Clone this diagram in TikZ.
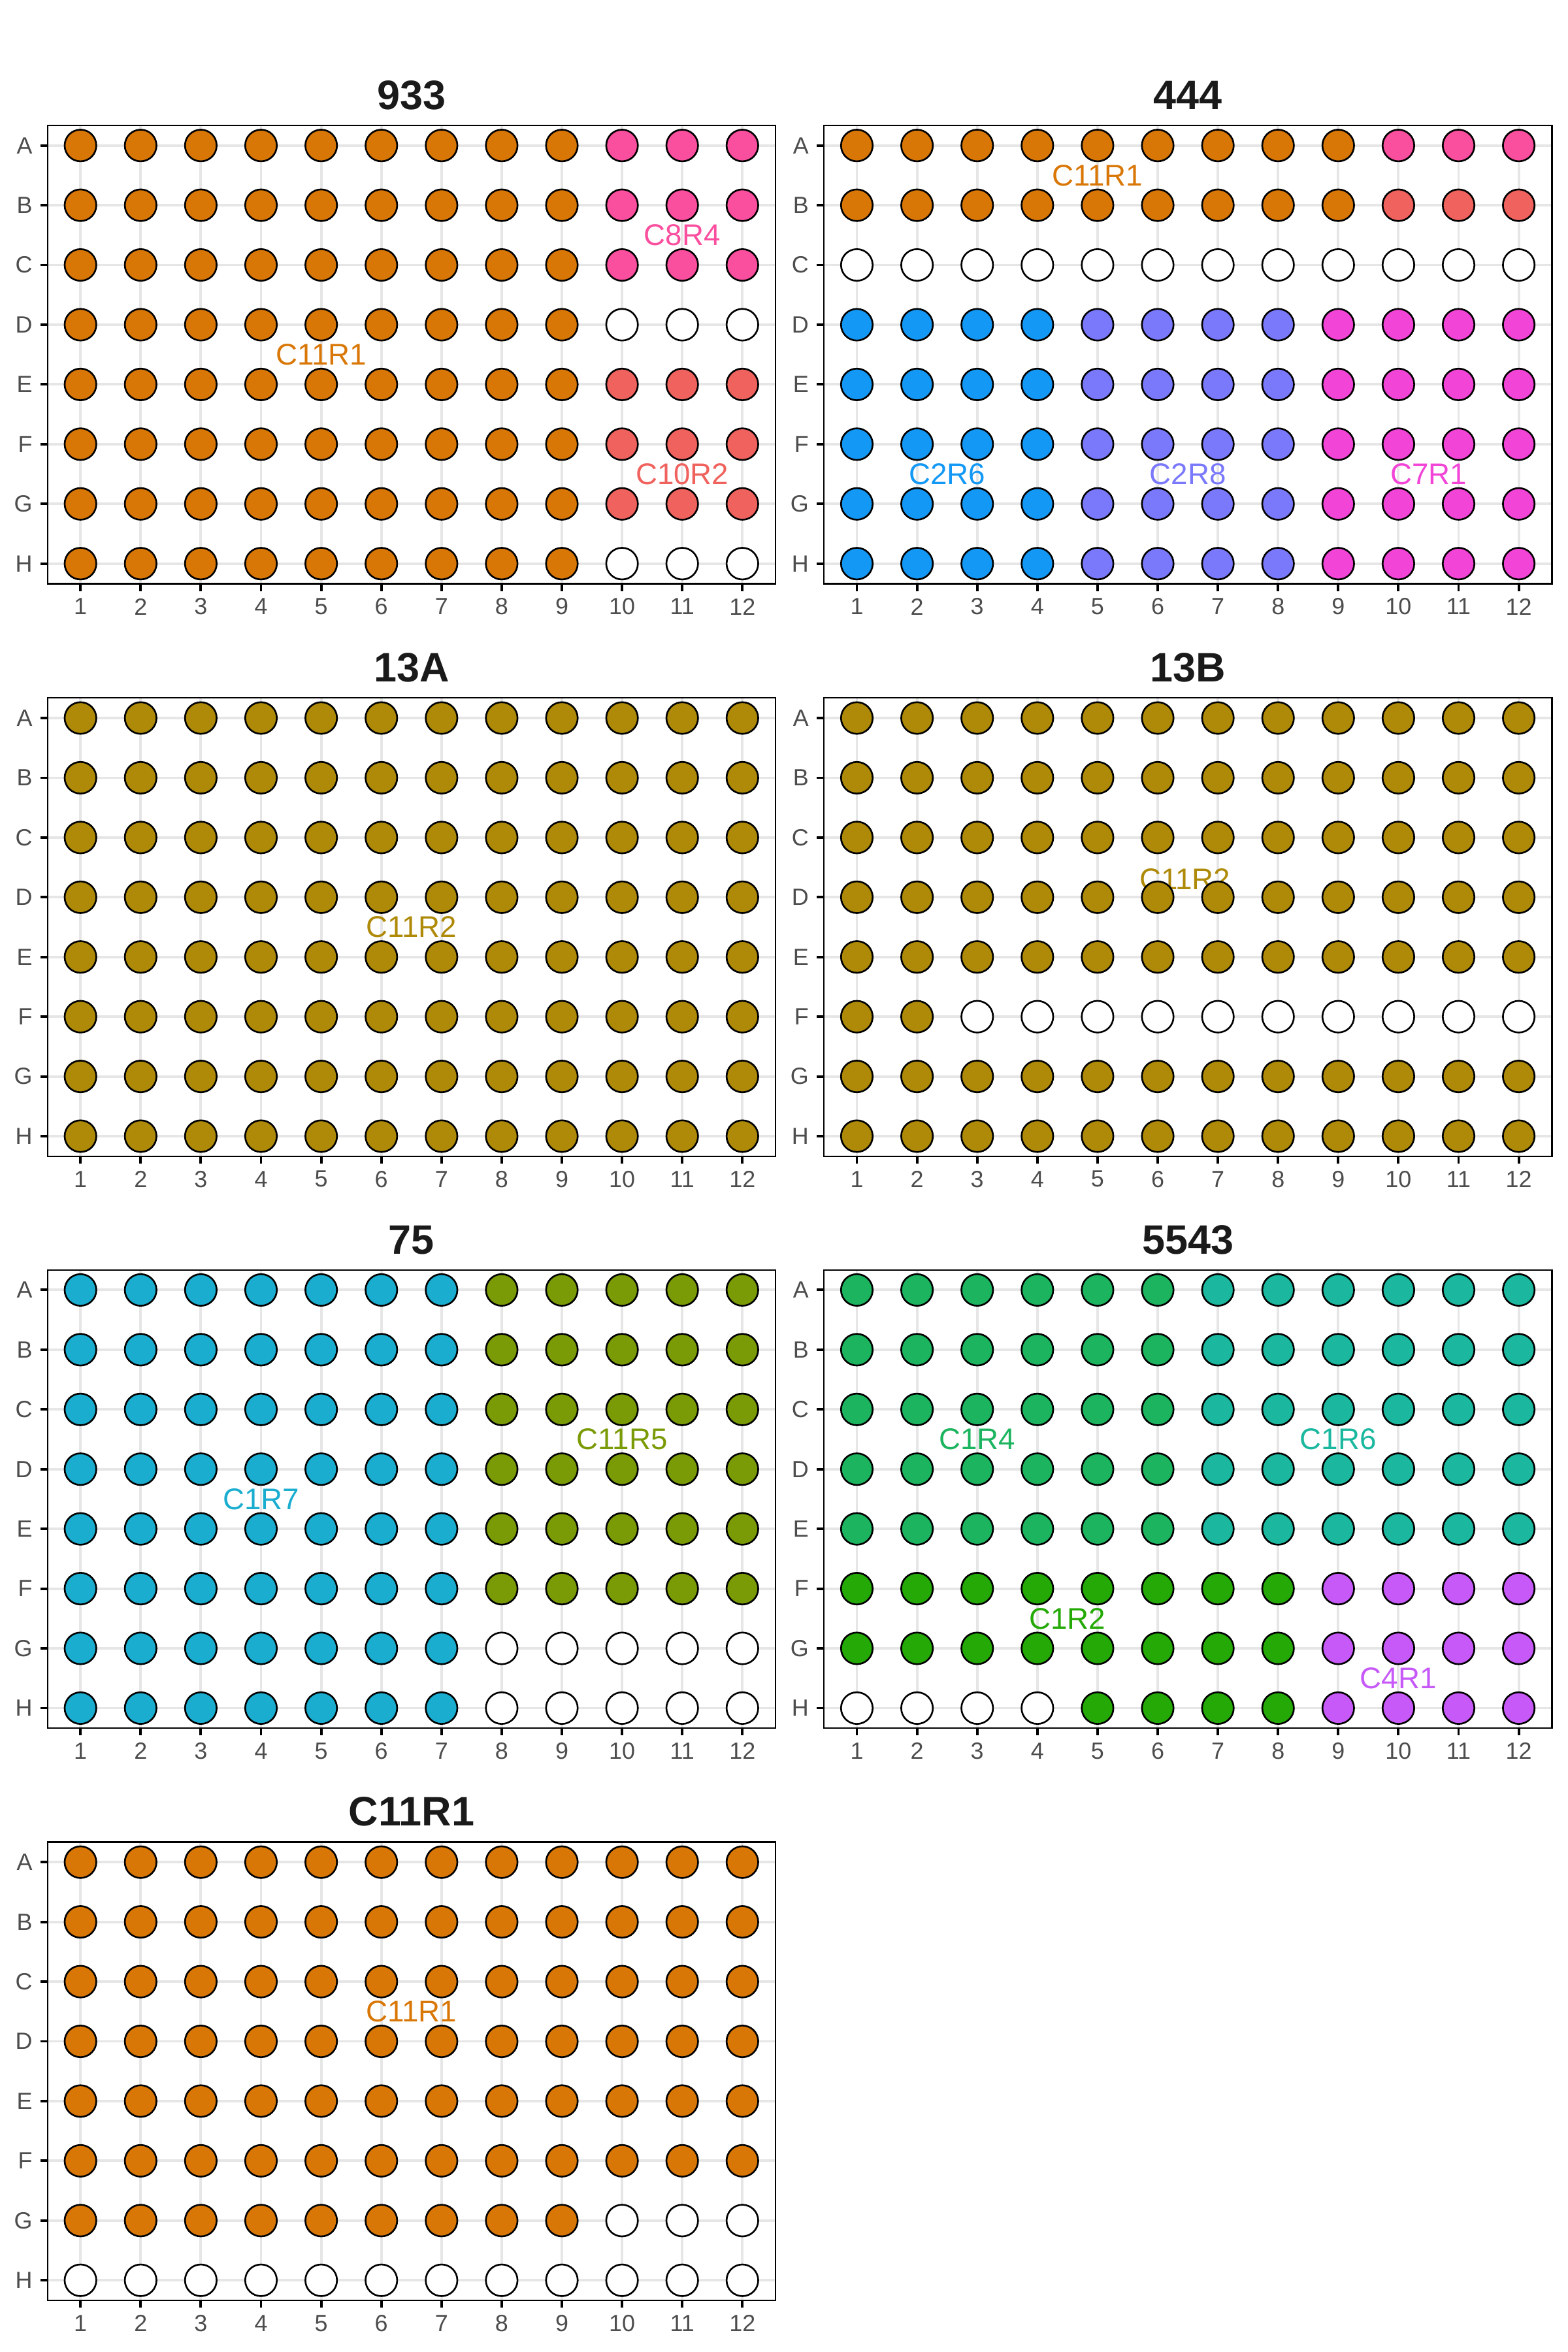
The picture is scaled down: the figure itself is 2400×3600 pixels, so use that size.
\documentclass[tikz,border=0pt]{standalone}
\usepackage{fontspec}
\setmainfont{Liberation Sans}

% Colori dei gruppi
\definecolor{arancio}{HTML}{D97706}
\definecolor{rosa}{HTML}{FA4E9E}
\definecolor{salmone}{HTML}{F0625D}
\definecolor{oliva}{HTML}{AE8A08}
\definecolor{azzurro}{HTML}{1398F5}
\definecolor{pervinca}{HTML}{7A79FB}
\definecolor{fucsia}{HTML}{F244D6}
\definecolor{ciano}{HTML}{1AADCF}
\definecolor{verdeoliva}{HTML}{7A9A06}
\definecolor{smeraldo}{HTML}{1CB45F}
\definecolor{turchese}{HTML}{1BB89F}
\definecolor{verdeprato}{HTML}{24A906}
\definecolor{viola}{HTML}{C659F8}
\definecolor{grigiogriglia}{HTML}{E6E6E6}
\definecolor{testoasse}{HTML}{4D4D4D}
\definecolor{titolonero}{HTML}{1A1A1A}

\tikzset{
  pozzo/.style={draw=black, line width=0.75pt},
  griglia/.style={draw=grigiogriglia, line width=1.1pt},
  cornice/.style={draw=black, line width=0.65pt},
  tacca/.style={draw=black, line width=1.1pt},
  asse/.style={text=testoasse, inner sep=0pt, font=\fontsize{10.2}{12}\selectfont},
  titolo/.style={text=titolonero, inner sep=0pt, anchor=base, font=\bfseries\fontsize{17.9}{21}\selectfont},
  gruppo/.style={inner sep=0pt, font=\fontsize{13}{15}\selectfont}
}

% Pozzi: righe #1-#2, colonne #3-#4, colore #5
\newcommand{\blocco}[5]{%
  \foreach \riga in {#1,...,#2} \foreach \col in {#3,...,#4}
    \draw[pozzo, fill=#5] ({50.5+(\col-1)*92.1},{30.7+(\riga-1)*91.43}) circle (0.242cm);}

% Etichetta di gruppo: nome, colonna, riga, colore, testo
\newcommand{\gruppo}[5]{%
  \node[gruppo, text=#4] (#1) at ({50.5+(#2-1)*92.1},{30.7+(#3-1)*91.43}) {#5};}

% Piastra: nome, sinistra, alto, titolo, contenuto
\newcommand{\piastra}[5]{%
  \begin{scope}[shift={(#2,#3)}]
    \node[titolo] (#1-titolo) at (557.3,-24.7) {#4};
    % griglia
    \foreach \col in {1,...,12}
      \draw[griglia] ({50.5+(\col-1)*92.1},0) -- ++(0,701.5);
    \foreach \riga in {1,...,8}
      \draw[griglia] (0,{30.7+(\riga-1)*91.43}) -- ++(1114.6,0);
    % assi
    \foreach \riga/\lettera in {1/A,2/B,3/C,4/D,5/E,6/F,7/G,8/H} {
      \draw[tacca] (-11,{30.7+(\riga-1)*91.43}) -- (0,{30.7+(\riga-1)*91.43});
      \node[asse, anchor=east] (#1-riga\lettera) at (-22.5,{30.7+(\riga-1)*91.43}) {\lettera};
    }
    \foreach \col in {1,...,12} {
      \draw[tacca] ({50.5+(\col-1)*92.1},701.5) -- ++(0,11);
      \node[asse] (#1-col\col) at ({50.5+(\col-1)*92.1},736.5) {\col};
    }
    #5
    \draw[cornice] (0,0) rectangle (1114.6,701.5);
  \end{scope}}

\begin{document}
\begin{tikzpicture}[x=0.01cm, y=-0.01cm]
  \useasboundingbox[fill=white] (0,0) rectangle (2400,3600);

  % Piastra 933
  \piastra{p933}{72.7}{192}{933}{
    \gruppo{p933-c11r1}{5}{4.5}{arancio}{C11R1}
    \gruppo{p933-c8r4}{11}{2.5}{rosa}{C8R4}
    \gruppo{p933-c10r2}{11}{6.5}{salmone}{C10R2}
    \blocco{1}{8}{1}{9}{arancio}
    \blocco{1}{3}{10}{12}{rosa}
    \blocco{4}{4}{10}{12}{white}
    \blocco{5}{7}{10}{12}{salmone}
    \blocco{8}{8}{10}{12}{white}
  }

  % Piastra 444
  \piastra{p444}{1261}{192}{444}{
    \gruppo{p444-c11r1}{5}{1.5}{arancio}{C11R1}
    \gruppo{p444-c2r6}{2.5}{6.5}{azzurro}{C2R6}
    \gruppo{p444-c2r8}{6.5}{6.5}{pervinca}{C2R8}
    \gruppo{p444-c7r1}{10.5}{6.5}{fucsia}{C7R1}
    \blocco{1}{2}{1}{9}{arancio}
    \blocco{1}{1}{10}{12}{rosa}
    \blocco{2}{2}{10}{12}{salmone}
    \blocco{3}{3}{1}{12}{white}
    \blocco{4}{8}{1}{4}{azzurro}
    \blocco{4}{8}{5}{8}{pervinca}
    \blocco{4}{8}{9}{12}{fucsia}
  }

  % Piastra 13A
  \piastra{p13a}{72.7}{1068.3}{13A}{
    \gruppo{p13a-c11r2}{6.5}{4.5}{oliva}{C11R2}
    \blocco{1}{8}{1}{12}{oliva}
  }

  % Piastra 13B
  \piastra{p13b}{1261}{1068.3}{13B}{
    \gruppo{p13b-c11r2}{6.45}{3.7}{oliva}{C11R2}
    \blocco{1}{5}{1}{12}{oliva}
    \blocco{6}{6}{1}{2}{oliva}
    \blocco{6}{6}{3}{12}{white}
    \blocco{7}{8}{1}{12}{oliva}
  }

  % Piastra 75
  \piastra{p75}{72.7}{1943.7}{75}{
    \gruppo{p75-c1r7}{4}{4.5}{ciano}{C1R7}
    \gruppo{p75-c11r5}{10}{3.5}{verdeoliva}{C11R5}
    \blocco{1}{8}{1}{7}{ciano}
    \blocco{1}{6}{8}{12}{verdeoliva}
    \blocco{7}{8}{8}{12}{white}
  }

  % Piastra 5543
  \piastra{p5543}{1261}{1943.7}{5543}{
    \gruppo{p5543-c1r4}{3}{3.5}{smeraldo}{C1R4}
    \gruppo{p5543-c1r6}{9}{3.5}{turchese}{C1R6}
    \gruppo{p5543-c1r2}{4.5}{6.5}{verdeprato}{C1R2}
    \gruppo{p5543-c4r1}{10}{7.5}{viola}{C4R1}
    \blocco{1}{5}{1}{6}{smeraldo}
    \blocco{1}{5}{7}{12}{turchese}
    \blocco{6}{7}{1}{8}{verdeprato}
    \blocco{8}{8}{1}{4}{white}
    \blocco{8}{8}{5}{8}{verdeprato}
    \blocco{6}{8}{9}{12}{viola}
  }

  % Piastra C11R1
  \piastra{pc11r1}{72.7}{2819.5}{C11R1}{
    \gruppo{pc11r1-c11r1}{6.5}{3.5}{arancio}{C11R1}
    \blocco{1}{6}{1}{12}{arancio}
    \blocco{7}{7}{1}{9}{arancio}
    \blocco{7}{7}{10}{12}{white}
    \blocco{8}{8}{1}{12}{white}
  }
\end{tikzpicture}
\end{document}
